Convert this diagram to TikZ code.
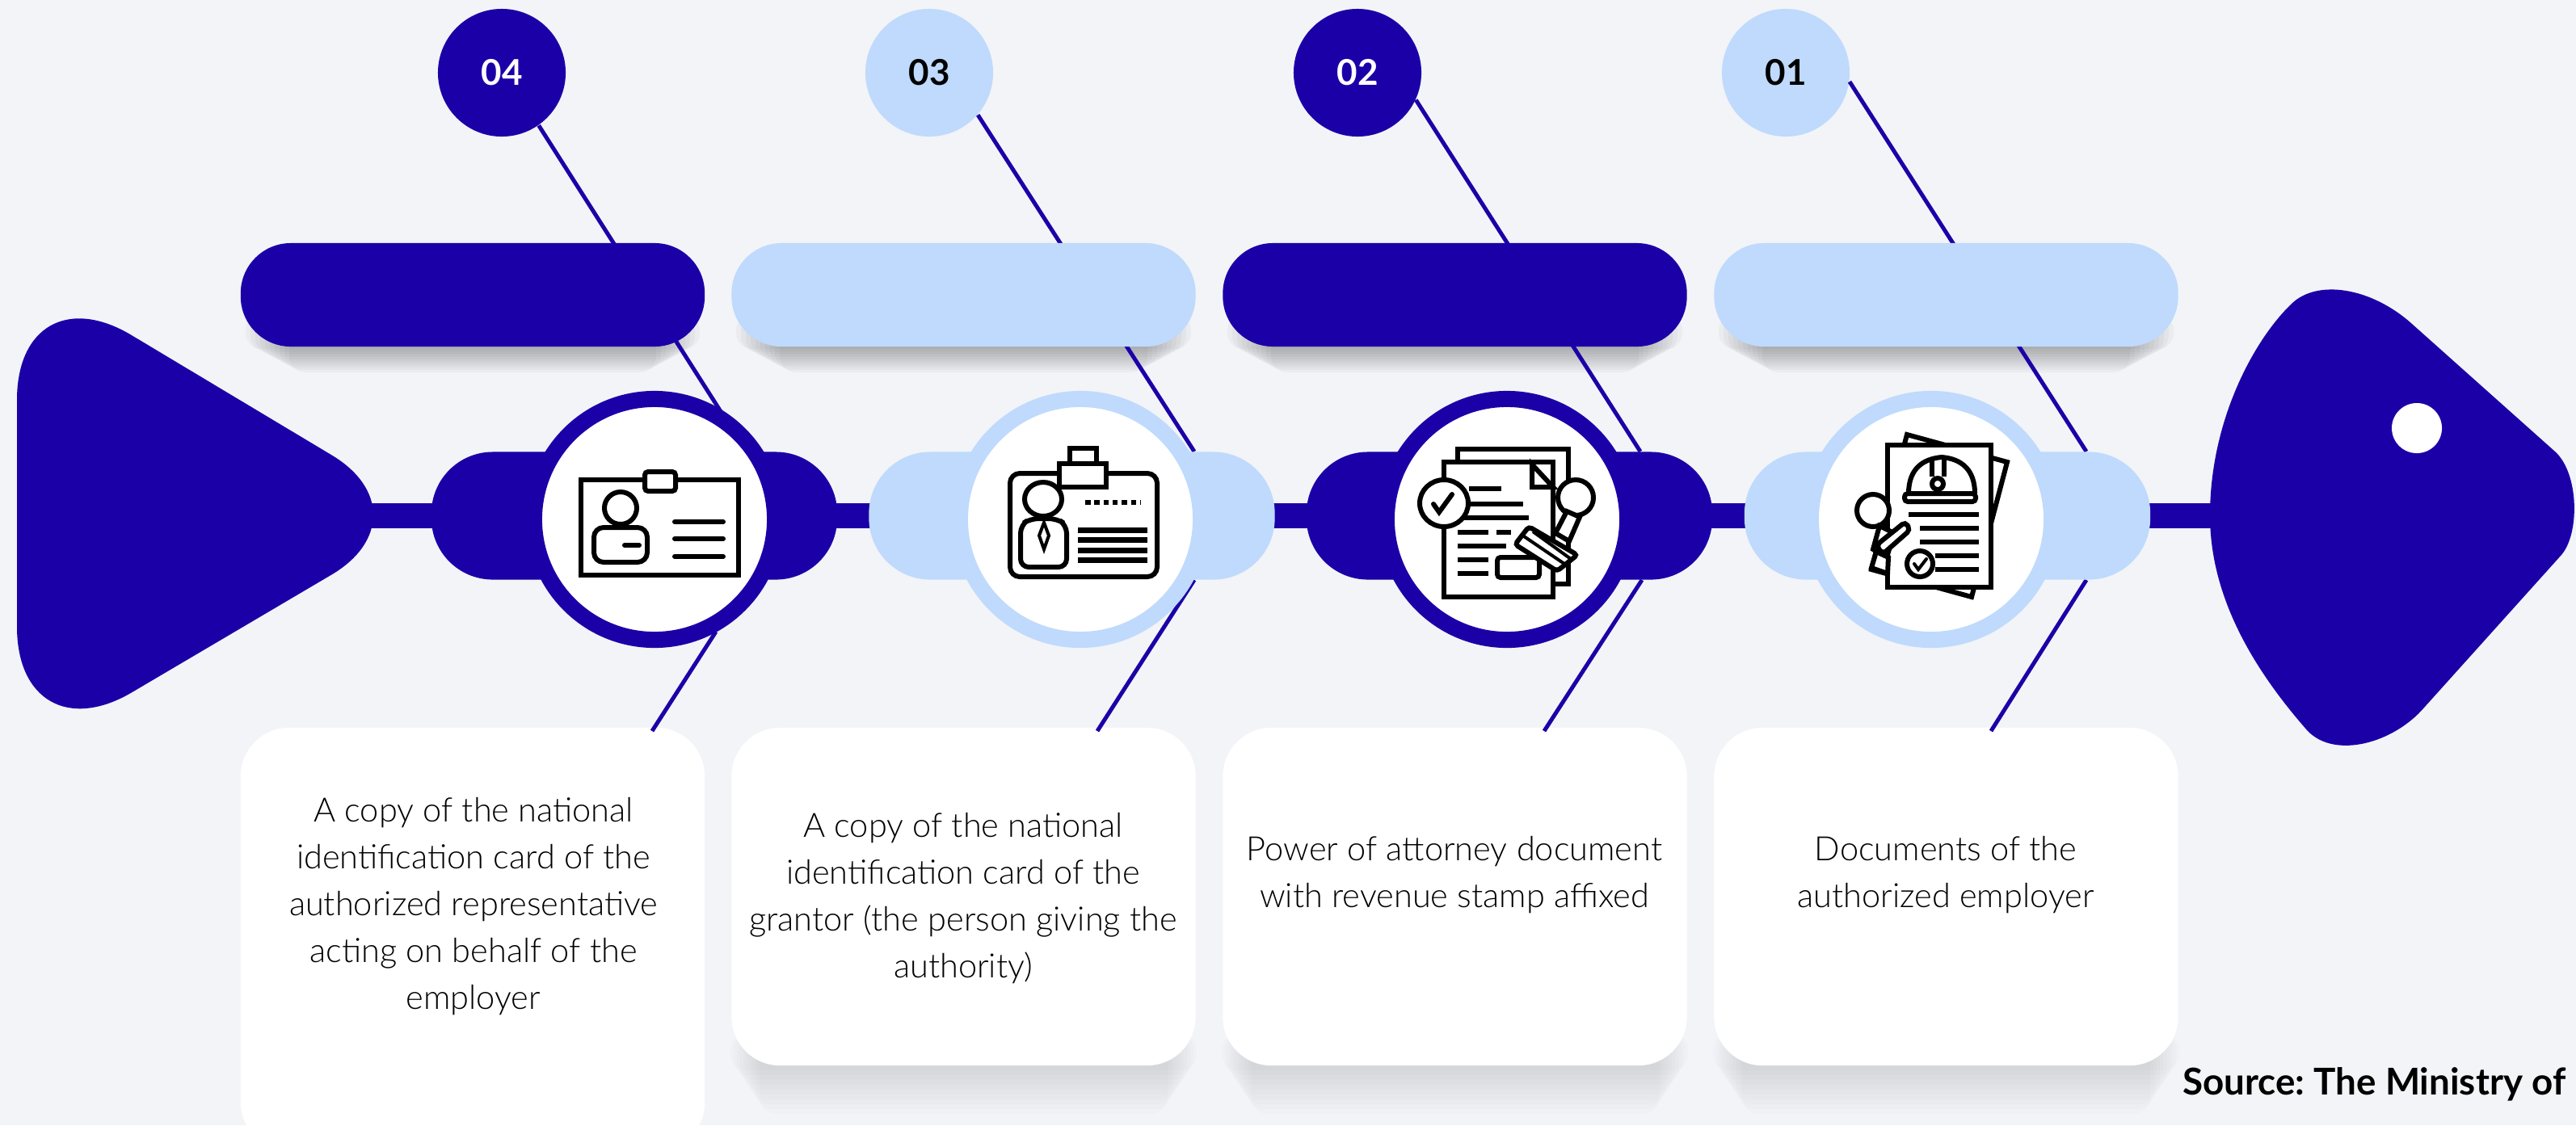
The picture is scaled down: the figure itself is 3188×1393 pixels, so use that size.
\documentclass[tikz,border=0pt]{standalone}
\usepackage{fontspec}
\setmainfont{Lato}
\newfontfamily\lightfont{Lato Light}
\definecolor{bgcol}{HTML}{F2F4F7}
\definecolor{darkcol}{HTML}{1B00A8}
\definecolor{lightcol}{HTML}{BFDAFC}
\frenchspacing
\tikzset{
  numbox/.style={circle,minimum size=1.58cm,inner sep=0pt,font=\fontsize{12.5}{15}\selectfont\bfseries},
  barbox/.style={rectangle,rounded corners=0.62cm,minimum width=5.74cm,minimum height=1.28cm,inner sep=0pt},
  capbox/.style={rectangle,rounded corners=0.76cm,minimum width=5.02cm,minimum height=1.58cm,inner sep=0pt},
  ringbox/.style={circle,fill=white,line width=0.2cm,minimum size=2.98cm,inner sep=0pt},
  cardbox/.style={rectangle,fill=white,rounded corners=0.6cm,minimum width=5.74cm,inner sep=0pt},
  cardtext/.style={align=center,font=\lightfont\fontsize{11.8}{16.5}\selectfont},
  fishline/.style={draw=darkcol,line width=0.05cm},
  icon/.style={draw=black,line width=0.06cm},
  iconthin/.style={draw=black,line width=0.04cm}
}
\newcommand{\softshadow}[6]{%
  \foreach \s in {1,...,10}
    \fill[black,opacity=#5,rounded corners=0.2cm] ({#1+\s*#6},{#3-40}) rectangle ({#2-\s*#6},{#3+\s*#4/10});
}
\begin{document}
\begin{tikzpicture}[x=0.01cm,y=-0.01cm]
\useasboundingbox (0,0) rectangle (3188,1393);
\fill[bgcol] (0,0) rectangle (3188,1393);

% spine
\fill[darkcol] (440,623) rectangle (2750,654);

% tail
\fill[darkcol,rounded corners=1.65cm] (21,330) [rounded corners=1.45cm] -- (535,638) [rounded corners=1.65cm] -- (21,941) -- cycle;

% head
\fill[darkcol] (2735,638) .. controls (2735,520) and (2790,420) .. (2836,376)
  .. controls (2868,345) and (2935,356) .. (2985,401)
  -- (3162,559) .. controls (3192,586) and (3193,662) .. (3169,688)
  -- (3000,876) .. controls (2962,920) and (2890,940) .. (2856,905)
  .. controls (2790,830) and (2735,740) .. (2735,638) -- cycle;
\node[circle,fill=white,minimum size=0.62cm,inner sep=0pt] (eye) at (2991,530) {};

% shadows
\softshadow{298}{872}{429}{32}{0.03}{6}
\softshadow{905}{1480}{429}{32}{0.03}{6}
\softshadow{1513}{2088}{429}{32}{0.03}{6}
\softshadow{2121}{2696}{429}{32}{0.03}{6}
\softshadow{900}{1485}{1319}{60}{0.012}{4}
\softshadow{1508}{2093}{1319}{60}{0.012}{4}
\softshadow{2116}{2701}{1319}{60}{0.012}{4}

%n4
\node[numbox,fill=darkcol,text=white] (num4) at (621,90) {04};
\coordinate (up4) at (940,585);
\coordinate (low4) at (886,782);
\node[cardbox,minimum height=5.24cm] (card4) at (585,1163) {};
\path[fishline] (num4.-55) -- (up4);
\path[fishline] (low4) -- (807,905);
\node[barbox,fill=darkcol] (bar4) at (585,365) {};
\node[capbox,fill=darkcol] (cap4) at (785,638.5) {};
\node[ringbox,draw=darkcol] (ring4) at (810,643) {};
\node[cardtext] (text4) at (586,1122) {A copy of the national\\identification card of the\\authorized representative\\acting on behalf of the\\employer};

%n3
\node[numbox,fill=lightcol,text=black] (num3) at (1150,90) {03};
\coordinate (up3) at (1478,559);
\coordinate (low3) at (1478,718);
\node[cardbox,minimum height=4.18cm] (card3) at (1192.5,1110) {};
\path[fishline] (num3.-41) -- (up3);
\path[fishline] (low3) -- (1358,905);
\node[barbox,fill=lightcol] (bar3) at (1192.5,365) {};
\node[capbox,fill=lightcol] (cap3) at (1326.5,638.5) {};
\node[ringbox,draw=lightcol] (ring3) at (1337,643) {};
\node[cardtext] (text3) at (1192,1112) {A copy of the national\\identification card of the\\grantor (the person giving the\\authority)};

%n2
\node[numbox,fill=darkcol,text=white] (num2) at (1680,90) {02};
\coordinate (up2) at (2030,559);
\coordinate (low2) at (2032,718);
\node[cardbox,minimum height=4.18cm] (card2) at (1800.5,1110) {};
\path[fishline] (num2.-25) -- (up2);
\path[fishline] (low2) -- (1911,905);
\node[barbox,fill=darkcol] (bar2) at (1800.5,365) {};
\node[capbox,fill=darkcol] (cap2) at (1868,638.5) {};
\node[ringbox,draw=darkcol] (ring2) at (1865,643) {};
\node[cardtext] (text2) at (1800,1083) {Power of attorney document\\with revenue stamp affixed};

%n1
\node[numbox,fill=lightcol,text=black] (num1) at (2210,90) {01};
\coordinate (up1) at (2582,559);
\coordinate (low1) at (2582,718);
\node[cardbox,minimum height=4.18cm] (card1) at (2408.5,1110) {};
\path[fishline] (num1.-8) -- (up1);
\path[fishline] (low1) -- (2464,905);
\node[barbox,fill=lightcol] (bar1) at (2408.5,365) {};
\node[capbox,fill=lightcol] (cap1) at (2410,638.5) {};
\node[ringbox,draw=lightcol] (ring1) at (2390,643) {};
\node[cardtext] (text1) at (2408,1083) {Documents of the\\authorized employer};

% source
\node[anchor=east,inner sep=0pt,font=\fontsize{13}{15}\selectfont\bfseries] (source) at (3176,1342) {Source: The Ministry of};

% icon n4
\path[icon] (719,594) rectangle (914,712);
\path[icon,fill=white,rounded corners=0.04cm] (798,584) rectangle (836,608);
\path[icon] (768,629) circle (20);
\path[icon,rounded corners=0.12cm] (735,696) -- (735,653) -- (801,653) -- (801,696) -- cycle;
\path[icon,line cap=round] (773,675) -- (791,675);
\path[icon,line cap=round] (835,646) -- (895,646);
\path[icon,line cap=round] (835,667) -- (895,667);
\path[icon,line cap=round] (835,689) -- (895,689);

% icon n3
\path[icon,rounded corners=0.12cm] (1250,714) -- (1250,586) -- (1432,586) -- (1432,714) -- cycle;
\path[icon,fill=white] (1324,555) rectangle (1357,574);
\path[icon,fill=white] (1311,574) rectangle (1369,603);
\path[icon] (1291,618) ellipse (23 and 21);
\path[icon,rounded corners=0.1cm] (1263,702) -- (1263,650) -- (1275,642) -- (1308,642) -- (1320,650) -- (1320,702) -- cycle;
\path[iconthin] (1292,647) -- (1286,663) -- (1292,680) -- (1298,663) -- cycle;
\path[icon,dash pattern=on 0.065cm off 0.048cm] (1343,622) -- (1411,622);
\path[icon,line width=0.07cm] (1334,656) -- (1420,656);
\path[icon,line width=0.07cm] (1334,668) -- (1420,668);
\path[icon,line width=0.07cm] (1334,681) -- (1420,681);
\path[icon,line width=0.07cm] (1334,693) -- (1420,693);

% icon n2
\path[icon] (1804,572) -- (1804,556) -- (1941,556) -- (1941,723) -- (1922,723);
\path[icon,fill=white] (1787,739) -- (1787,572) -- (1922,572) -- (1922,739) -- cycle;
\path[icon,fill=white] (1896,575) -- (1922,603) -- (1896,603) -- cycle;
\path[icon,fill=white] (1787,623) ellipse (30 and 29);
\path[icon,line cap=round] (1774,624) -- (1781,634) -- (1797,612);
\path[icon] (1818,605) -- (1858,605);
\path[icon] (1818,624) -- (1885,624);
\path[icon] (1812,641) -- (1892,641);
\path[icon] (1804,659) -- (1842,659);
\path[icon] (1852,659) -- (1870,659);
\path[icon] (1804,676) -- (1864,676);
\path[icon] (1804,693) -- (1842,693);
\path[icon] (1804,710) -- (1842,710);
\path[icon,fill=white,rounded corners=0.04cm] (1853,690) rectangle (1905,715);
\path[icon,fill=white] (1950,616) ellipse (22 and 22);
\path[icon,fill=white] (1925,660) -- (1939,633) -- (1955,640) -- (1942,670) -- cycle;
\path[icon,fill=white,rounded corners=0.04cm] (1892,652) -- (1952,687) -- (1927,707) -- (1875,674) -- cycle;
\path[iconthin] (1886,664) -- (1936,698);
\path[iconthin] (1897,658) -- (1944,692);

% icon n1
\path[icon,fill=white] (2360,538) -- (2484,572) -- (2440,739) -- (2316,705) -- cycle;
\path[icon,fill=white] (2336,551) rectangle (2464,727);
\path[icon] (2362,611) .. controls (2362,580) and (2380,568) .. (2403,566) .. controls (2428,568) and (2444,582) .. (2444,611);
\path[icon,rounded corners=0.04cm] (2357,611) rectangle (2445,621);
\path[icon] (2391,566) -- (2391,590);
\path[icon] (2406,566) -- (2406,590);
\path[icon] (2398,599) circle (7);
\path[icon] (2362,637) -- (2449,637);
\path[icon] (2376,654) -- (2449,654);
\path[icon] (2376,671) -- (2449,671);
\path[icon] (2395,688) -- (2449,688);
\path[icon] (2395,705) -- (2449,705);
\path[icon,fill=white] (2318,632) ellipse (20 and 20);
\path[icon,fill=white] (2326,651) -- (2344,660) -- (2335,690) -- (2318,680) -- cycle;
\path[icon,fill=white,rounded corners=0.05cm] (2322,675) -- (2358,646) -- (2364,656) -- (2330,686) -- cycle;
\path[icon,fill=white] (2322,683) -- (2337,690) -- (2336,710) -- (2316,703) -- cycle;
\path[icon,fill=white] (2376,698) circle (16);
\path[iconthin,line cap=round] (2369,698) -- (2374,705) -- (2384,692);

\end{tikzpicture}
\end{document}
